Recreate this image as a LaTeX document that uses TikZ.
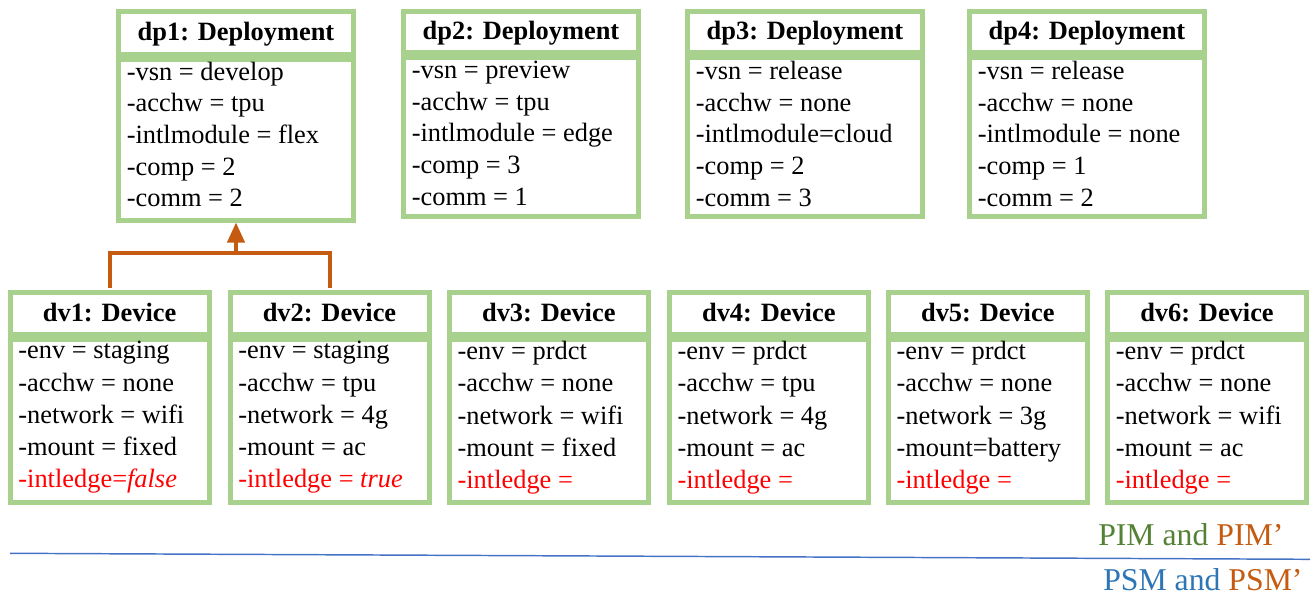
\documentclass[tikz,border=0pt]{standalone}
\usepackage{fontspec}
\setmainfont{Liberation Serif}
\usetikzlibrary{arrows.meta}
\definecolor{boxgreen}{HTML}{A9D18E}
\definecolor{linkorange}{HTML}{C55A11}
\definecolor{pimgreen}{HTML}{548235}
\definecolor{psmblue}{HTML}{2E75B6}
\definecolor{ruleblue}{HTML}{4472C4}
\definecolor{flagred}{HTML}{FF0000}
\begin{document}
\begin{tikzpicture}[x=0.75pt,y=-0.75pt,
  boxline/.style={draw=boxgreen,line width=3.75pt},
  headbox/.style={boxline,inner sep=0pt,text height=14pt,text depth=2.75pt,
    font=\fontsize{19.8pt}{23.75pt}\selectfont\bfseries},
  dphead/.style={headbox,minimum width=176.25pt,minimum height=30.75pt},
  dvhead/.style={headbox,minimum width=149.25pt,minimum height=31.5pt},
  bodybox/.style={boxline,inner sep=0pt,anchor=north},
  dpbody/.style={bodybox,minimum width=176.25pt},
  dvbody/.style={bodybox,minimum width=149.25pt,minimum height=121.875pt},
  attrlist/.style={anchor=north west,inner sep=0pt,align=left,
    execute at begin node={\rule{0pt}{15pt}}},
  dpattrs/.style={attrlist,font=\fontsize{19.8pt}{23.75pt}\selectfont},
  dvattrs/.style={attrlist,font=\fontsize{19.8pt}{24.2pt}\selectfont},
  link/.style={draw=linkorange,line width=3pt},
  legend/.style={anchor=base west,inner sep=0pt,font=\fontsize{23.8pt}{28pt}\selectfont}
]
\useasboundingbox (0,0) rectangle (1315,597);

% ---- deployments ----
\node[dphead,minimum height=31.875pt] (dp1h) at (236,32.75) {dp1: Deployment};
\node[dpbody,minimum height=120.75pt] (dp1) at (dp1h.south) {};
\node[dpattrs] (dp1t) at ([xshift=7.9pt,yshift=-3.9pt]dp1.north west)
  {-vsn = develop\\-acchw = tpu\\-intlmodule = flex\\-comp = 2\\-comm = 2};

\node[dphead] (dp2h) at (521,32.25) {dp2: Deployment};
\node[dpbody,minimum height=118.875pt] (dp2) at (dp2h.south) {};
\node[dpattrs] (dp2t) at ([xshift=7.9pt,yshift=-4.2pt]dp2.north west)
  {-vsn = preview\\-acchw = tpu\\-intlmodule = edge\\-comp = 3\\-comm = 1};

\node[dphead] (dp3h) at (805,32.25) {dp3: Deployment};
\node[dpbody,minimum height=118.875pt] (dp3) at (dp3h.south) {};
\node[dpattrs] (dp3t) at ([xshift=7.9pt,yshift=-4.2pt]dp3.north west)
  {-vsn = release\\-acchw = none\\-intlmodule=cloud\\-comp = 2\\-comm = 3};

\node[dphead] (dp4h) at (1087,32.25) {dp4: Deployment};
\node[dpbody,minimum height=118.875pt] (dp4) at (dp4h.south) {};
\node[dpattrs] (dp4t) at ([xshift=7.9pt,yshift=-4.2pt]dp4.north west)
  {-vsn = release\\-acchw = none\\-intlmodule = none\\-comp = 1\\-comm = 2};

% ---- devices ----
\node[dvhead] (dv1h) at (109.6,313.5) {dv1: Device};
\node[dvbody] (dv1) at (dv1h.south) {};
\node[dvattrs] (dv1t) at ([xshift=7.9pt,yshift=-3pt]dv1.north west)
  {-env = staging\\-acchw = none\\-network = wifi\\-mount = fixed\\
   \textcolor{flagred}{-intledge=\textit{false}}};

\node[dvhead] (dv2h) at (329.5,313.5) {dv2: Device};
\node[dvbody] (dv2) at (dv2h.south) {};
\node[dvattrs] (dv2t) at ([xshift=7.9pt,yshift=-3pt]dv2.north west)
  {-env = staging\\-acchw = tpu\\-network = 4g\\-mount = ac\\
   \textcolor{flagred}{-intledge = \textit{true}}};

\node[dvhead] (dv3h) at (548.8,313.5) {dv3: Device};
\node[dvbody] (dv3) at (dv3h.south) {};
\node[dvattrs] (dv3t) at ([xshift=7.9pt,yshift=-3pt]dv3.north west)
  {-env = prdct\\-acchw = none\\-network = wifi\\-mount = fixed\\
   \textcolor{flagred}{-intledge =}};

\node[dvhead] (dv4h) at (768.8,313.5) {dv4: Device};
\node[dvbody] (dv4) at (dv4h.south) {};
\node[dvattrs] (dv4t) at ([xshift=7.9pt,yshift=-3pt]dv4.north west)
  {-env = prdct\\-acchw = tpu\\-network = 4g\\-mount = ac\\
   \textcolor{flagred}{-intledge =}};

\node[dvhead] (dv5h) at (987.8,313.5) {dv5: Device};
\node[dvbody] (dv5) at (dv5h.south) {};
\node[dvattrs] (dv5t) at ([xshift=7.9pt,yshift=-3pt]dv5.north west)
  {-env = prdct\\-acchw = none\\-network = 3g\\-mount=battery\\
   \textcolor{flagred}{-intledge =}};

\node[dvhead] (dv6h) at (1207,313.5) {dv6: Device};
\node[dvbody] (dv6) at (dv6h.south) {};
\node[dvattrs] (dv6t) at ([xshift=7.9pt,yshift=-3pt]dv6.north west)
  {-env = prdct\\-acchw = none\\-network = wifi\\-mount = ac\\
   \textcolor{flagred}{-intledge =}};

% ---- dv1 and dv2 joined up to dp1 ----
\coordinate (join) at (236,252.5);
\draw[link,shorten <=1.875pt,shorten >=1.875pt] (dv1h.north) |- (join) -| (dv2h.north);
\draw[link,-{Triangle[length=15pt,width=12.75pt]}] (join) -- (dp1.south);

% ---- level separator and legend ----
\coordinate (rulestart) at (10,553.3);
\coordinate (ruleend) at (1310,559.3);
\draw[ruleblue,line width=1.1pt] (rulestart) -- (ruleend);
\node[legend] (pim) at (1098,545)
  {\textcolor{pimgreen}{PIM and} \textcolor{linkorange}{PIM’}};
\node[legend] (psm) at (1103,590)
  {\textcolor{psmblue}{PSM and} \textcolor{linkorange}{PSM’}};
\end{tikzpicture}
\end{document}
